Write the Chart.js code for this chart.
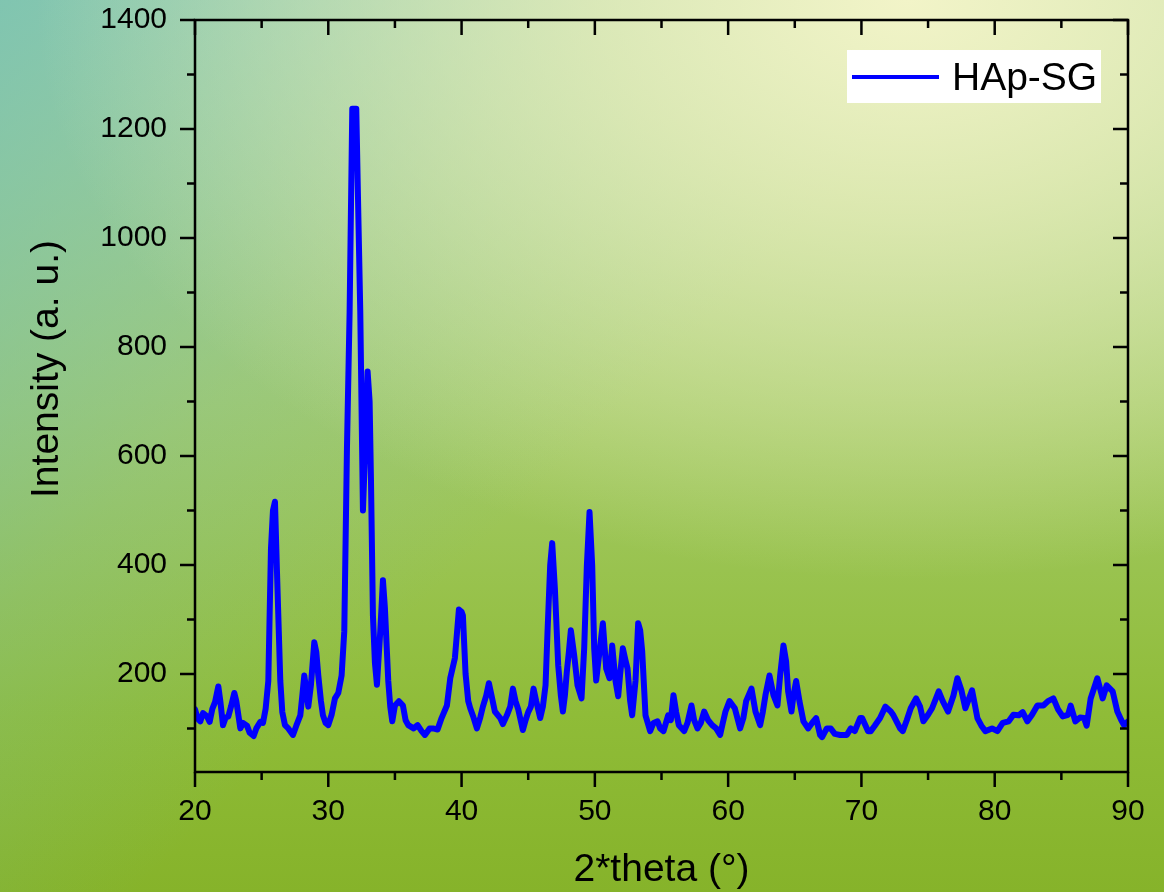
<!DOCTYPE html>
<html>
<head>
<meta charset="utf-8">
<title>HAp-SG XRD</title>
<script src="https://cdn.jsdelivr.net/npm/chart.js@4.4.1/dist/chart.umd.min.js"></script>
<style>
    html, body {
        margin: 0;
        padding: 0;
        width: 1164px;
        height: 892px;
        overflow: hidden;
    }
    body {
        background:
            radial-gradient(ellipse 75% 65% at 78% 0%, rgba(242, 244, 200, 1) 0%, rgba(236, 240, 190, 0.75) 35%, rgba(225, 235, 175, 0) 100%),
            linear-gradient(135deg, rgba(110, 190, 180, 0.75) 0%, rgba(120, 190, 170, 0.25) 30%, rgba(120, 190, 170, 0) 50%),
            linear-gradient(to bottom, #b7d9a6 0%, #a5cb6a 45%, #8fbc38 80%, #86b32a 100%);
    }
    #xrdChart { display: block; }
</style>
</head>
<body>
<canvas id="xrdChart" width="1164" height="892"></canvas>
<script>
// ==========================================
// DATA
// ==========================================
const twoTheta = [
    20.0, 20.2, 20.4, 20.6, 20.9, 21.1, 21.3, 21.5, 21.75, 21.9,
    22.1, 22.3, 22.5, 22.7, 22.95, 23.1, 23.4, 23.6, 23.9, 24.1,
    24.4, 24.6, 24.9, 25.1, 25.3, 25.5, 25.7, 25.85, 26.0, 26.15,
    26.4, 26.55, 26.75, 27.0, 27.35, 27.6, 27.9, 28.05, 28.2, 28.35,
    28.5, 28.7, 28.95, 29.1, 29.25, 29.45, 29.6, 29.8, 30.0, 30.25,
    30.5, 30.75, 31.0, 31.2, 31.4, 31.6, 31.8, 32.1, 32.25, 32.4,
    32.5, 32.6, 32.75, 32.95, 33.1, 33.2, 33.35, 33.5, 33.65, 33.9,
    34.1, 34.25, 34.5, 34.65, 34.8, 35.0, 35.3, 35.6, 35.8, 36.0,
    36.4, 36.7, 37.0, 37.25, 37.6, 37.85, 38.2, 38.5, 38.9, 39.15,
    39.5, 39.8, 40.0, 40.1, 40.3, 40.5, 40.65, 40.9, 41.15, 41.4,
    41.6, 41.85, 42.05, 42.25, 42.5, 42.9, 43.1, 43.4, 43.65, 43.85,
    44.05, 44.25, 44.6, 44.8, 45.0, 45.2, 45.4, 45.6, 45.9, 46.1,
    46.3, 46.45, 46.65, 46.8, 47.0, 47.25, 47.45, 47.6, 47.75, 47.9,
    48.05, 48.2, 48.45, 48.7, 49.0, 49.2, 49.4, 49.6, 49.8, 49.95,
    50.1, 50.25, 50.4, 50.6, 50.85, 51.1, 51.3, 51.55, 51.75, 51.9,
    52.1, 52.3, 52.45, 52.65, 52.8, 53.05, 53.25, 53.4, 53.55, 53.8,
    54.15, 54.4, 54.7, 54.9, 55.15, 55.5, 55.7, 55.9, 56.1, 56.3,
    56.7, 56.95, 57.25, 57.45, 57.7, 57.95, 58.2, 58.5, 58.8, 59.1,
    59.4, 59.6, 59.8, 60.1, 60.5, 60.9, 61.15, 61.35, 61.75, 62.05,
    62.4, 62.6, 62.8, 63.1, 63.4, 63.7, 63.9, 64.15, 64.35, 64.5,
    64.75, 64.9, 65.1, 65.35, 65.65, 66.0, 66.3, 66.6, 66.9, 67.05,
    67.4, 67.7, 68.0, 68.4, 68.9, 69.2, 69.5, 69.9, 70.05, 70.5,
    70.7, 71.0, 71.4, 71.8, 72.2, 72.4, 72.9, 73.1, 73.4, 73.7,
    74.1, 74.4, 74.65, 75.0, 75.3, 75.8, 76.1, 76.5, 76.9, 77.2,
    77.5, 77.8, 78.3, 78.7, 79.0, 79.3, 79.8, 80.2, 80.6, 81.05,
    81.4, 81.8, 82.1, 82.45, 82.8, 83.2, 83.65, 84.0, 84.4, 84.75,
    85.1, 85.5, 85.7, 86.05, 86.4, 86.7, 86.9, 87.2, 87.7, 88.1,
    88.4, 88.85, 89.2, 89.5, 89.7, 90.0
];

const intensity = [
    135, 118, 113, 128, 122, 112, 136, 148, 177, 150,
    106, 120, 122, 140, 165, 150, 100, 110, 105, 92,
    86, 100, 112, 110, 136, 187, 430, 500, 516, 388,
    187, 130, 106, 100, 88, 105, 124, 160, 197, 170,
    140, 180, 258, 240, 197, 150, 124, 110, 106, 125,
    155, 165, 197, 278, 613, 864, 1237, 1237, 1047, 864,
    681, 500, 600, 755, 700, 560, 307, 220, 180, 278,
    372, 320, 187, 140, 113, 142, 150, 142, 115, 106,
    100, 106, 95, 88, 100, 100, 98, 119, 142, 192,
    229, 318, 314, 307, 200, 150, 137, 120, 100, 120,
    140, 160, 183, 160, 131, 119, 108, 124, 140, 173,
    150, 135, 97, 115, 130, 140, 173, 150, 119, 140,
    179, 278, 400, 440, 357, 216, 160, 131, 160, 205,
    240, 280, 234, 179, 155, 247, 399, 497, 399, 247,
    188, 220, 252, 293, 210, 192, 252, 187, 159, 200,
    247, 225, 210, 150, 124, 187, 293, 280, 242, 124,
    95, 110, 113, 100, 95, 124, 115, 161, 130, 106,
    95, 110, 142, 115, 100, 110, 131, 115, 106, 100,
    88, 110, 131, 150, 137, 100, 120, 150, 173, 131,
    106, 130, 161, 197, 161, 142, 197, 252, 223, 168,
    131, 160, 187, 150, 113, 100, 110, 119, 88, 84,
    100, 100, 90, 88, 88, 100, 95, 119, 119, 95,
    95, 105, 119, 140, 131, 124, 100, 95, 115, 137,
    155, 140, 113, 125, 137, 168, 150, 131, 160, 192,
    170, 137, 170, 119, 105, 95, 100, 95, 110, 113,
    125, 124, 130, 113, 125, 142, 142, 150, 155, 135,
    122, 125, 142, 113, 120, 119, 105, 155, 192, 155,
    179, 168, 131, 115, 106, 113
];

const xTicks = [20, 30, 40, 50, 60, 70, 80, 90];
const xMinorTicks = [25, 35, 45, 55, 65, 75, 85];
const yTicks = [200, 400, 600, 800, 1000, 1200, 1400];
const yMinorTicks = [100, 300, 500, 700, 900, 1100, 1300];

const fontFamily = '"Liberation Sans", Arial, Helvetica, sans-serif';

// ==========================================
// PLUGIN: bingkai, tick kecil/besar, tajuk paksi, legend
// ==========================================
const framePlugin = {
    id: 'originFrame',
    afterDatasetsDraw(chart) {
        const { ctx, chartArea: a, scales: { x, y } } = chart;
        const major = 15, minor = 8;
        ctx.save();
        ctx.strokeStyle = '#000';
        ctx.lineWidth = 2.5;
        ctx.strokeRect(a.left, a.top, a.right - a.left, a.bottom - a.top);

        ctx.beginPath();
        const xTick = (v, len) => {
            const px = x.getPixelForValue(v);
            ctx.moveTo(px, a.bottom); ctx.lineTo(px, a.bottom + len); // luar, bawah
            ctx.moveTo(px, a.top); ctx.lineTo(px, a.top + len);       // dalam, atas
        };
        const yTick = (v, len) => {
            const py = y.getPixelForValue(v);
            ctx.moveTo(a.left, py); ctx.lineTo(a.left - len, py);     // luar, kiri
            ctx.moveTo(a.right, py); ctx.lineTo(a.right - len, py);   // dalam, kanan
        };
        xTicks.forEach(v => xTick(v, major));
        xMinorTicks.forEach(v => xTick(v, minor));
        yTicks.forEach(v => yTick(v, major));
        yMinorTicks.forEach(v => yTick(v, minor));
        ctx.stroke();
        ctx.restore();
    },
    afterDraw(chart) {
        const { ctx, chartArea: a } = chart;
        const ds = chart.data.datasets[0];
        ctx.save();

        // tajuk paksi
        ctx.fillStyle = '#000';
        ctx.font = '39px ' + fontFamily;
        ctx.textAlign = 'center';
        ctx.textBaseline = 'alphabetic';
        ctx.fillText('2*theta (°)', (a.left + a.right) / 2, 881);

        ctx.translate(58, 369);
        ctx.rotate(-Math.PI / 2);
        ctx.fillText('Intensity (a. u.)', 0, 0);
        ctx.setTransform(1, 0, 0, 1, 0, 0);

        // legend
        const bx = a.right - 281, by = a.top + 30;
        ctx.fillStyle = '#fff';
        ctx.fillRect(bx, by, 254, 53);
        ctx.strokeStyle = ds.borderColor;
        ctx.lineWidth = 4;
        ctx.beginPath();
        ctx.moveTo(bx + 5, by + 27);
        ctx.lineTo(bx + 92, by + 27);
        ctx.stroke();
        ctx.fillStyle = '#000';
        ctx.textAlign = 'left';
        ctx.fillText(ds.label, bx + 105, by + 40);
        ctx.restore();
    }
};

document.addEventListener('DOMContentLoaded', () => {
    const ctx = document.getElementById('xrdChart');

    new Chart(ctx, {
        type: 'line',
        data: {
            datasets: [{
                label: 'HAp-SG',
                data: twoTheta.map((t, i) => ({ x: t, y: intensity[i] })),
                borderColor: '#0000FF',
                borderWidth: 6,
                borderJoinStyle: 'round',
                borderCapStyle: 'round',
                pointRadius: 0,
                tension: 0,
                fill: false
            }]
        },
        options: {
            responsive: false,
            animation: false,
            devicePixelRatio: 1,
            layout: { padding: { top: 20, right: 36, left: 0, bottom: 0 } },
            plugins: {
                legend: { display: false },
                tooltip: { enabled: false }
            },
            scales: {
                x: {
                    type: 'linear',
                    min: 20,
                    max: 90,
                    afterBuildTicks: s => { s.ticks = xTicks.map(v => ({ value: v })); },
                    afterFit: s => { s.height = 120; },
                    // tick tak dilukis (grid off), panjangnya cuma jarak label
                    grid: { display: false, drawTicks: true, tickLength: 22 },
                    border: { display: false },
                    ticks: {
                        color: '#000',
                        padding: 0,
                        maxRotation: 0,
                        callback: v => String(v),
                        font: { family: fontFamily, size: 30 }
                    }
                },
                y: {
                    min: 20,
                    max: 1400,
                    afterBuildTicks: s => { s.ticks = yTicks.map(v => ({ value: v })); },
                    afterFit: s => { s.width = 195; },
                    grid: { display: false, drawTicks: true, tickLength: 28 },
                    border: { display: false },
                    ticks: {
                        color: '#000',
                        padding: 0,
                        callback: v => String(v),
                        font: { family: fontFamily, size: 30 }
                    }
                }
            }
        },
        plugins: [framePlugin]
    });
});
</script>
</body>
</html>
